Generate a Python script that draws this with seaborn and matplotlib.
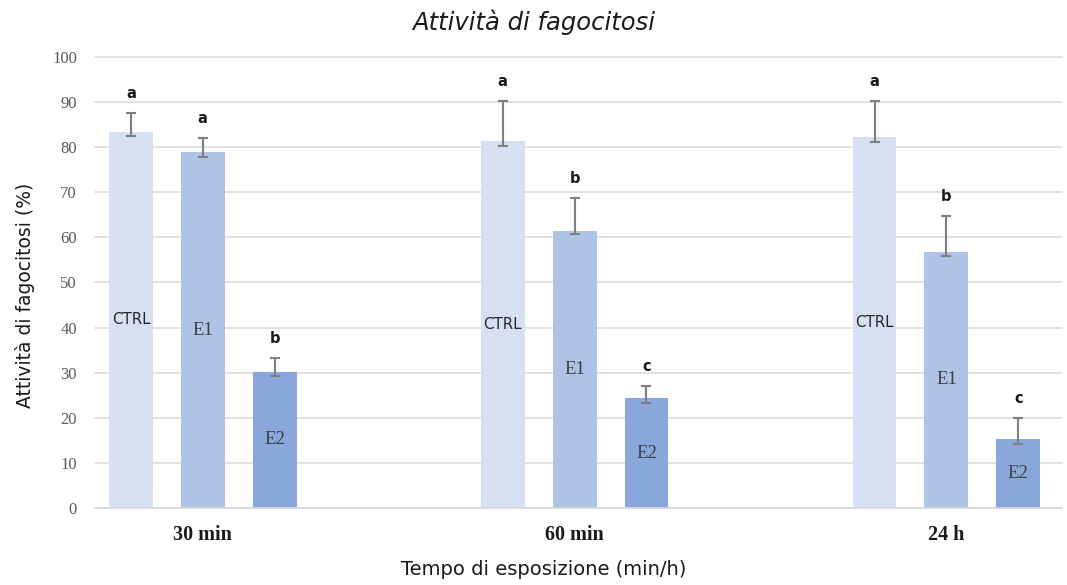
import numpy as np
import pandas as pd
import matplotlib
matplotlib.use("Agg")
import matplotlib.pyplot as plt
import seaborn as sns

# ---- data ----
times = ["30 min", "60 min", "24 h"]
groups = ["CTRL", "E1", "E2"]
ctrl_vals = [83.4, 81.3, 82.2]
e1_vals = [78.9, 61.5, 56.8]
e2_vals = [30.2, 24.3, 15.2]
ctrl_err_hi = [4.2, 9.0, 8.1]
e1_err_hi = [3.1, 7.3, 7.9]
e2_err_hi = [3.0, 2.8, 4.8]
ctrl_err_lo = [0.9, 1.0, 1.0]
e1_err_lo = [1.0, 0.8, 0.9]
e2_err_lo = [0.9, 1.0, 1.0]
ctrl_letters = ["a", "a", "a"]
e1_letters = ["a", "b", "b"]
e2_letters = ["b", "c", "c"]
y_ticks = [0, 10, 20, 30, 40, 50, 60, 70, 80, 90, 100]

vals = [ctrl_vals, e1_vals, e2_vals]
err_hi = [ctrl_err_hi, e1_err_hi, e2_err_hi]
err_lo = [ctrl_err_lo, e1_err_lo, e2_err_lo]
letters = [ctrl_letters, e1_letters, e2_letters]

df = pd.DataFrame({
    "Tempo": [t for g in groups for t in times],
    "Gruppo": [g for g in groups for _ in times],
    "Valore": [v for vs in vals for v in vs],
})

sns.set_theme(style="white")
plt.rcParams["font.family"] = ["DejaVu Sans"]

colors = ["#D7DFF2", "#AFC3E6", "#89A7DB"]

fig = plt.figure(figsize=(10.67, 5.85), dpi=100)
ax = fig.add_axes([0.089, 0.1316, 0.906, 0.771])

sns.barplot(data=df, x="Tempo", y="Valore", hue="Gruppo", order=times,
            hue_order=groups, palette=colors, width=0.58, gap=0.39,
            errorbar=None, legend=False, ax=ax, saturation=1, linewidth=0)

ax.set_ylim(0, 100)
ax.set_xlim(-0.29, 2.31)
ax.set_yticks(y_ticks)
ax.yaxis.grid(True, color="#DCDCDC", linewidth=1.2)
for gl in ax.get_ygridlines():
    gl.set_clip_on(False)
ax.set_axisbelow(True)
for s in ["top", "right", "left"]:
    ax.spines[s].set_visible(False)
ax.spines["bottom"].set_color("#D9D9D9")
ax.spines["bottom"].set_linewidth(1.2)
ax.tick_params(axis="both", length=0)
ax.tick_params(axis="y", pad=13)
ax.tick_params(axis="x", pad=12)

for lab in ax.get_yticklabels():
    lab.set_fontfamily("Liberation Serif")
    lab.set_fontsize(12)
    lab.set_color("#595959")
for lab in ax.get_xticklabels():
    lab.set_fontfamily("Liberation Serif")
    lab.set_fontsize(14.5)
    lab.set_fontweight("bold")
    lab.set_color("#1a1a1a")

bar_containers = list(ax.containers)
for gi, cont in enumerate(bar_containers):
    for ti, bar in enumerate(cont.patches):
        xc = bar.get_x() + bar.get_width() / 2
        h = bar.get_height()
        ax.errorbar(xc, h, yerr=[[err_lo[gi][ti]], [err_hi[gi][ti]]],
                    fmt="none", ecolor="#7F7F7F", elinewidth=1.5,
                    capsize=3.8, capthick=1.5)
        ax.text(xc, h + err_hi[gi][ti] + 4.3, letters[gi][ti],
                ha="center", va="center", fontsize=10.5,
                fontweight="bold", color="#1a1a1a")
        if groups[gi] == "CTRL":
            ax.text(xc, h / 2, groups[gi], ha="center", va="center",
                    fontsize=10.8, color="#262626")
        else:
            ax.text(xc, h / 2, groups[gi], ha="center", va="center",
                    fontsize=13.5, color="#404040",
                    fontfamily="Liberation Serif")

ax.set_xlabel("Tempo di esposizione (min/h)", fontsize=14, color="#1a1a1a",
              va="center")
ax.set_ylabel("Attività di fagocitosi (%)", fontsize=13.5, color="#1a1a1a",
              va="center")
ax.xaxis.set_label_coords(0.464, -0.137)
ax.yaxis.set_label_coords(-0.072, 0.472)
fig.text(0.5, 0.962, "Attività di fagocitosi", ha="center", va="center",
         fontsize=17.5, fontstyle="italic", color="#1a1a1a")

fig.savefig("out.png", dpi=100)
